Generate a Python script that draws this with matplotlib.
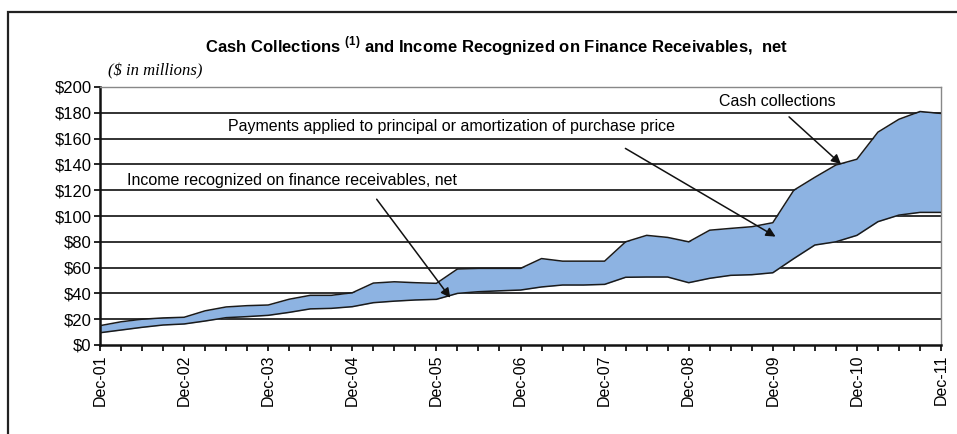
import matplotlib
matplotlib.use("Agg")
import matplotlib.pyplot as plt
from matplotlib.patches import Rectangle
import numpy as np

plt.rcParams['font.family'] = ['Liberation Sans', 'DejaVu Sans']

# Quarterly data, Dec-01 .. Dec-11 ($ in millions)
cash_collections = [15, 18, 20, 21, 21.5,
                    26.5, 29.5, 30.5, 31,
                    35.5, 38.5, 38.5, 40.5,
                    48, 49, 48.3, 47.8,
                    58.9, 59.4, 59.4, 59.4,
                    67, 65, 65, 65,
                    80, 85, 83.4, 80,
                    89, 90.4, 91.7, 94.8,
                    120, 130, 139.5, 144,
                    165, 175, 181, 179.5]
income_recognized = [9.5, 11.6, 13.7, 15.5, 16.3,
                     18.6, 21.2, 22, 23,
                     25.3, 28, 28.4, 29.7,
                     32.8, 34, 34.9, 35.4,
                     40, 41.3, 42, 42.6,
                     45, 46.5, 46.5, 47,
                     52.5, 52.7, 52.7, 48.3,
                     51.7, 54, 54.5, 56,
                     67, 77.5, 80, 85,
                     95.6, 100.7, 102.8, 102.8]
year_labels = ['Dec-01', 'Dec-02', 'Dec-03', 'Dec-04', 'Dec-05', 'Dec-06',
               'Dec-07', 'Dec-08', 'Dec-09', 'Dec-10', 'Dec-11']
y_ticks = [0, 20, 40, 60, 80, 100, 120, 140, 160, 180, 200]

W, H = 957, 434
fig = plt.figure(figsize=(W / 100, H / 100), dpi=100)

# outer frame (extends past right and bottom edges)
fig.patches.append(Rectangle((8 / W, -0.05), 1.1, 1.05 - 12 / H,
                             transform=fig.transFigure, fill=False,
                             edgecolor='#222222', linewidth=1.6, zorder=0))

left, right, bottom, top = 100, 941, 345, 87
ax = fig.add_axes([left / W, 1 - bottom / H, (right - left) / W, (bottom - top) / H])

x = np.arange(len(cash_collections))
ax.fill_between(x, income_recognized, cash_collections, color='#8DB3E2', zorder=2, linewidth=0)
ax.plot(x, cash_collections, color='#1a1a1a', linewidth=1.1, zorder=3)
ax.plot(x, income_recognized, color='#1a1a1a', linewidth=1.1, zorder=3)

ax.set_xlim(0, len(x) - 1)
ax.set_ylim(0, 200)
ax.set_yticks(y_ticks)
ax.set_yticklabels(['$%d' % v for v in y_ticks], fontsize=12)
for v in y_ticks[1:-1]:
    ax.axhline(v, color='#222222', linewidth=1.3, zorder=1)

ax.set_xticks(np.arange(0, len(x), 4))
ax.set_xticklabels(year_labels, rotation=90, fontsize=11.5)
ax.set_xticks(np.arange(0, len(x)), minor=True)
ax.tick_params(axis='x', which='both', direction='out', length=4, width=1.2, pad=3)
ax.tick_params(axis='y', direction='out', length=4, width=1.2, pad=2)

for s in ['left', 'bottom']:
    ax.spines[s].set_color('#111111')
    ax.spines[s].set_linewidth(1.8)
for s in ['top', 'right']:
    ax.spines[s].set_color('#888888')
    ax.spines[s].set_linewidth(1.0)

# Title & subtitle
fig.text(497 / W, 1 - 46 / H,
         r'Cash Collections $^{\mathregular{(1)}}$ and Income Recognized on Finance Receivables,  net',
         ha='center', va='center', fontsize=12, fontweight='bold')
fig.text(108 / W, 1 - 71 / H, '($ in millions)', ha='left', va='center',
         fontsize=12, fontstyle='italic', family='Liberation Serif')

def fig_xy(px, py):
    return (px / W, 1 - py / H)

arrow = dict(arrowstyle='-|>', color='#111111', lw=1.1, mutation_scale=14)

fig.text(*fig_xy(777, 102), 'Cash collections', ha='center', va='center', fontsize=11.5)
ax.annotate('', xy=fig_xy(843, 166), xycoords='figure fraction',
            xytext=fig_xy(787, 115), textcoords='figure fraction', arrowprops=arrow)

fig.text(*fig_xy(451, 126), 'Payments applied to principal or amortization of purchase price',
         ha='center', va='center', fontsize=11.5)
ax.annotate('', xy=fig_xy(778, 238), xycoords='figure fraction',
            xytext=fig_xy(623, 147), textcoords='figure fraction', arrowprops=arrow)

fig.text(*fig_xy(292, 181), 'Income recognized on finance receivables, net',
         ha='center', va='center', fontsize=11.5)
ax.annotate('', xy=fig_xy(452, 300), xycoords='figure fraction',
            xytext=fig_xy(375, 197), textcoords='figure fraction', arrowprops=arrow)

fig.savefig('out.png', dpi=100)
